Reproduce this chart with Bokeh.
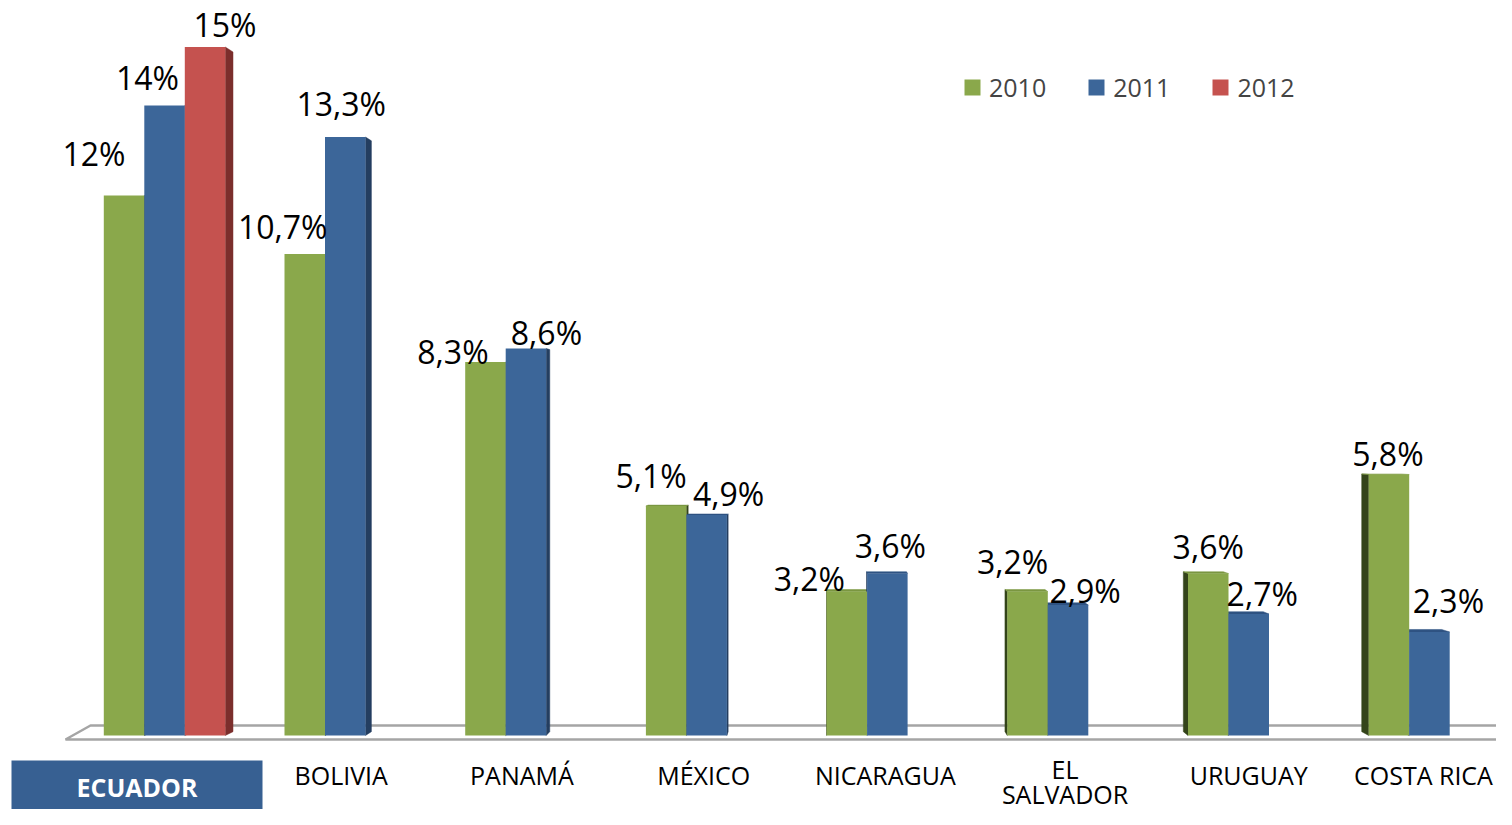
import numpy as np
from bokeh.plotting import figure
from bokeh.models import ColumnDataSource, Range1d, Legend, LegendItem
from bokeh.core.properties import value
from bokeh.embed import file_html
from bokeh.resources import INLINE

# ---------------- data ----------------
countries = ["ECUADOR", "BOLIVIA", "PANAMÁ", "MÉXICO", "NICARAGUA",
             "EL\nSALVADOR", "URUGUAY", "COSTA RICA"]
years = ["2010", "2011", "2012"]
v2010 = [12.0, 10.7, 8.3, 5.1, 3.2, 3.2, 3.6, 5.8]
v2011 = [14.0, 13.3, 8.6, 4.9, 3.6, 2.9, 2.7, 2.3]
v2012 = [15.3, None, None, None, None, None, None, None]
lab2010 = ["12%", "10,7%", "8,3%", "5,1%", "3,2%", "3,2%", "3,6%", "5,8%"]
lab2011 = ["14%", "13,3%", "8,6%", "4,9%", "3,6%", "2,9%", "2,7%", "2,3%"]
lab2012 = ["15%", None, None, None, None, None, None, None]

# label placement (pixels, relative to bar top centre)
ldx2010 = [-30, -22, -32.5, -15, -37.5, -15, 0, -1]
ldy2010 = [-42, -27.5, -11, -30.5, -13, -30, -27, -21]
ldx2011 = [-17, -4, 20.5, 22, 3, 17, 13.5, 19]
ldy2011 = [-28.5, -34, -16, -21.5, -28, -14.5, -20.5, -31.5]
ldx2012 = [20]
ldy2012 = [-23]
cat_dx = [0, -4, -4, -3, -2, -3, 0, -6]

colors = ["#8AA84B", "#3C6699", "#C5524F"]
side_colors = ["#34441A", "#243E60", "#7B2E2C"]
top_colors = ["#7A9640", "#2F5382", "#A94442"]

# ---------------- geometry ----------------
FIG_W, FIG_H = 1496, 809
PXX, PXY = 180.7, 45.0          # pixels per category / per percent
X0 = -164.05 / PXX
X1 = X0 + FIG_W / PXX
Y1 = 735.0 / PXY
Y0 = Y1 - FIG_H / PXY
BW = 40.5 / PXX                  # bar width in category units
VPX, VPY, K = 824.0, 435.0, 0.01284


def to_px(x, y):
    return (x - X0) * PXX, (Y1 - y) * PXY


def to_data(px, py):
    return px / PXX + X0, Y1 - py / PXY


def back(px, py):
    return px + K * (VPX - px), py + K * (VPY - py)


p = figure(width=FIG_W, height=FIG_H, x_range=Range1d(X0, X1), y_range=Range1d(Y0, Y1),
           output_backend="svg", toolbar_location=None,
           x_axis_location=None, y_axis_location=None, min_border=0,
           outline_line_color=None, background_fill_color="white",
           border_fill_color="white")
p.grid.visible = False

# floor
fl_px = [(90, 725), (1502, 725), (1527, 739), (65, 739)]
fx, fy = zip(*[to_data(a, b) for a, b in fl_px])
p.patch(list(fx), list(fy), fill_color="white", line_color="#A5A5A5", line_width=2.5)

series = [v2010, v2011, v2012]
labels = [lab2010, lab2011, lab2012]
ldx = [ldx2010, ldx2011, ldx2012]
ldy = [ldy2010, ldy2011, ldy2012]

# 3D side and top faces
for j, vals in enumerate(series):
    xs_side, ys_side, xs_top, ys_top = [], [], [], []
    for i, v in enumerate(vals):
        if v is None:
            continue
        xc = i + (j - 1) * BW
        Lp, Tp = to_px(xc - BW / 2, v)
        Rp, Bp = to_px(xc + BW / 2, 0)
        poly = None
        if Rp < VPX:
            poly = [(Rp, Tp), back(Rp, Tp), back(Rp, Bp), (Rp, Bp)]
        elif Lp > VPX:
            poly = [(Lp, Tp), back(Lp, Tp), back(Lp, Bp), (Lp, Bp)]
        if poly:
            d = [to_data(a, b) for a, b in poly]
            xs_side.append([q[0] for q in d])
            ys_side.append([q[1] for q in d])
        if Tp > VPY:
            poly = [(Lp, Tp), (Rp, Tp), back(Rp, Tp), back(Lp, Tp)]
            d = [to_data(a, b) for a, b in poly]
            xs_top.append([q[0] for q in d])
            ys_top.append([q[1] for q in d])
    if xs_side:
        p.patches(xs_side, ys_side, fill_color=side_colors[j], line_color=side_colors[j], line_width=0.5)
    if xs_top:
        p.patches(xs_top, ys_top, fill_color=top_colors[j], line_color=top_colors[j], line_width=0.5)

# front faces
renderers = []
for j, vals in enumerate(series):
    idx = [i for i, v in enumerate(vals) if v is not None]
    src = ColumnDataSource(dict(x=[i + (j - 1) * BW for i in idx], top=[vals[i] for i in idx]))
    r = p.vbar(x="x", top="top", bottom=0, width=BW, source=src,
               fill_color=colors[j], line_color=None)
    renderers.append(r)

# data labels
for j, vals in enumerate(series):
    idx = [i for i, v in enumerate(vals) if v is not None]
    src = ColumnDataSource(dict(
        x=[i + (j - 1) * BW for i in idx], y=[vals[i] for i in idx],
        t=[labels[j][i] for i in idx],
        dx=[ldx[j][k] for k in range(len(idx))], dy=[ldy[j][k] for k in range(len(idx))]))
    p.text(x="x", y="y", text="t", x_offset="dx", y_offset="dy", source=src,
           text_font=value("Open Sans"), text_font_size="32px", text_color="black",
           text_align="center", text_baseline="middle")

# category labels
cx, cy, ct, cxo, cyo = [], [], [], [], []
for i, name in enumerate(countries):
    if i == 0:
        continue
    lines = name.split("\n")
    for k, line in enumerate(lines):
        cx.append(i)
        cy.append(0)
        ct.append(line)
        cxo.append(cat_dx[i])
        cyo.append(39 if len(lines) == 1 else 33 + 25 * k)
p.text(x=cx, y=cy, text=ct, x_offset=cxo, y_offset=cyo, text_font=value("Open Sans"),
       text_font_size="25px", text_color="black", text_align="center",
       text_baseline="middle")

# highlighted first category
bl, bt = to_data(11, 760)
br, bb = to_data(262, 830)
p.quad(left=[bl], right=[br], top=[bt], bottom=[bb], fill_color="#376092", line_color=None)
ex, ey = to_data(136.5, 786)
p.text(x=[ex], y=[ey], text=[countries[0]], text_font=value("Open Sans"),
       text_font_size="25px", text_font_style="bold", text_color="white",
       text_align="center", text_baseline="middle")

legend = Legend(items=[LegendItem(label=y, renderers=[r]) for y, r in zip(years, renderers)],
                orientation="horizontal", location=(962, 705), glyph_width=20, glyph_height=20,
                label_standoff=7, spacing=40, padding=0, margin=0, border_line_color=None,
                background_fill_alpha=0, label_text_font="Open Sans",
                label_text_font_size="25px", label_height=20)
p.add_layout(legend)

open("out.html", "w").write(file_html(p, INLINE))
